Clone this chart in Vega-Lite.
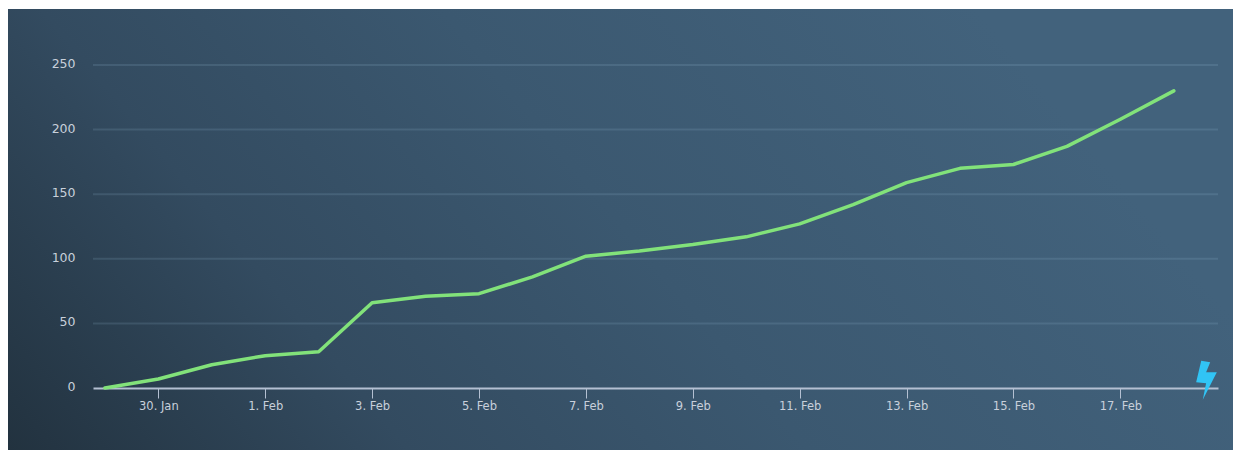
{
"$schema":"https://vega.github.io/schema/vega-lite/v6.json",
"width":1225,"height":441,
"autosize":{"type":"none"},
"padding":{"left":8,"top":9,"right":0,"bottom":0},
"background":"white",
"view":{"stroke":null,"fill":{"gradient":"linear","x1":0,"y1":1,"x2":1,"y2":0.7,"stops":[{"offset":0,"color":"#22323f"},{"offset":0.3,"color":"#334b60"},{"offset":0.6,"color":"#3b5870"},{"offset":1,"color":"#42627c"}]}},
"datasets":{
"series":[
{"date":"2020-01-29","cases":0},{"date":"2020-01-30","cases":7},{"date":"2020-01-31","cases":18},{"date":"2020-02-01","cases":25},{"date":"2020-02-02","cases":28},{"date":"2020-02-03","cases":66},{"date":"2020-02-04","cases":71},{"date":"2020-02-05","cases":73},{"date":"2020-02-06","cases":86},{"date":"2020-02-07","cases":102},{"date":"2020-02-08","cases":106},{"date":"2020-02-09","cases":111},{"date":"2020-02-10","cases":117},{"date":"2020-02-11","cases":127},{"date":"2020-02-12","cases":142},{"date":"2020-02-13","cases":159},{"date":"2020-02-14","cases":170},{"date":"2020-02-15","cases":173},{"date":"2020-02-16","cases":187},{"date":"2020-02-17","cases":208},{"date":"2020-02-18","cases":230}],
"grid":[{"cases":50,"from":"2020-01-28T18:40:00Z","to":"2020-02-18T19:50:00Z"},{"cases":100,"from":"2020-01-28T18:40:00Z","to":"2020-02-18T19:50:00Z"},{"cases":150,"from":"2020-01-28T18:40:00Z","to":"2020-02-18T19:50:00Z"},{"cases":200,"from":"2020-01-28T18:40:00Z","to":"2020-02-18T19:50:00Z"},{"cases":250,"from":"2020-01-28T18:40:00Z","to":"2020-02-18T19:50:00Z"}],
"marker":[{"date":"2020-02-18T14:40:00Z","cases":6}]
},
"encoding":{
 "x":{"type":"temporal","scale":{"type":"utc","domain":["2020-01-28T18:40:00Z","2020-02-18T19:50:00Z"],"range":[85,1210]},
  "axis":{"title":null,"orient":"bottom","offset":-62,"grid":false,"labelExpr":"utcFormat(datum.value,'%-d. %b')","values":["2020-01-30","2020-02-01","2020-02-03","2020-02-05","2020-02-07","2020-02-09","2020-02-11","2020-02-13","2020-02-15","2020-02-17"],"domainColor":"#b4c0d2","domainWidth":2,"tickColor":"#b4c0d2","tickWidth":1,"tickSize":10,"labelColor":"#c8d0db","labelFont":"DejaVu Sans","labelFontSize":11.5,"labelPadding":2,"labelAngle":0,"labelOverlap":false,"labelFlush":false}},
 "y":{"field":"cases","type":"quantitative","scale":{"domain":[0,250],"range":[379,56]},
  "axis":{"title":null,"orient":"left","offset":-85,"grid":false,"domain":false,"ticks":false,"values":[0,50,100,150,200,250],"labelColor":"#c8d0db","labelFont":"DejaVu Sans","labelFontSize":12.5,"labelPadding":18,"labelOffset":-1.5}}
},
"layer":[
{"data":{"name":"grid"},"mark":{"type":"rule","color":"#9cc0dc","opacity":0.16,"strokeWidth":2},
 "encoding":{"x":{"field":"from","type":"temporal"},"x2":{"field":"to"}}},
{"data":{"name":"series"},"mark":{"type":"line","color":"#82e27a","strokeWidth":3.5,"strokeJoin":"round","strokeCap":"round"},
 "encoding":{"x":{"field":"date","type":"temporal"}}},
{"data":{"name":"marker"},"mark":{"type":"point","filled":true,"opacity":1,"color":"#31c4f5","size":1521,"shape":"M-0.27,-1L0.19,-0.92L-0.02,-0.41L0.53,-0.41L-0.19,1L-0.02,0.15L-0.53,0.1Z"},
 "encoding":{"x":{"field":"date","type":"temporal"}}}
]
}
